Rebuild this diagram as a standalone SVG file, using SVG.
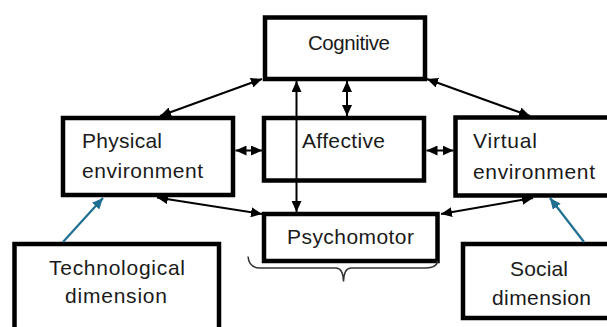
<svg xmlns="http://www.w3.org/2000/svg" width="607" height="327" viewBox="0 0 607 327">
<style>
.box{fill:#fff;stroke:#000;stroke-width:4.5}
.lbl{font-family:"Liberation Sans",Arial,sans-serif;font-size:21px;fill:#1a1a1a}
.c{stroke:#000;stroke-width:2;fill:none}
.b{stroke:#1f6f92;stroke-width:2.2;fill:none}
</style>
<defs>
<marker id="ah" markerUnits="userSpaceOnUse" markerWidth="12" markerHeight="10" refX="11" refY="5" orient="auto-start-reverse">
<path d="M0,0 L11,5 L0,10 Z" fill="#000"/>
</marker>
<marker id="bh" markerUnits="userSpaceOnUse" markerWidth="12" markerHeight="10" refX="11" refY="5" orient="auto">
<path d="M0,0 L11,5 L0,10 Z" fill="#1f6f92"/>
</marker>
</defs>
<rect width="607" height="327" fill="#fff"/>
<g id="cognitive">
<rect class="box" x="265" y="17.5" width="160" height="61.5"/>
<text class="lbl" x="308" y="49.5" style="font-size:20.5px" textLength="82">Cognitive</text>
</g>
<g id="physical">
<rect class="box" x="63" y="118" width="170" height="77"/>
<text class="lbl" x="82" y="148" textLength="80">Physical</text>
<text class="lbl" x="82" y="178" textLength="121">environment</text>
</g>
<g id="affective">
<rect class="box" x="264" y="118" width="160" height="62.5"/>
<text class="lbl" x="302" y="148" textLength="83">Affective</text>
</g>
<g id="virtual">
<rect class="box" x="455.5" y="117.5" width="160" height="78"/>
<text class="lbl" x="473" y="148" textLength="64">Virtual</text>
<text class="lbl" x="473" y="179" textLength="122">environment</text>
</g>
<g id="psychomotor">
<rect class="box" x="264" y="214" width="173.5" height="47"/>
<text class="lbl" x="287" y="244" textLength="127">Psychomotor</text>
</g>
<g id="technological">
<rect class="box" x="14.5" y="244" width="204.5" height="100"/>
<text class="lbl" x="49" y="275" textLength="136">Technological</text>
<text class="lbl" x="65" y="303" textLength="102">dimension</text>
</g>
<g id="social">
<rect class="box" x="463" y="244" width="160" height="74"/>
<text class="lbl" x="510" y="276" textLength="58">Social</text>
<text class="lbl" x="492" y="305" textLength="99">dimension</text>
</g>
<g id="brace">
<path d="M248,256.5 Q249,268 260,268 L336,268 Q343,268 343.5,281.5 Q344,268 351,268 L426,268 Q436,268 438,261" fill="none" stroke="#333" stroke-width="1.5"/>
</g>
<g id="connectors">
<line class="c" x1="160" y1="116" x2="262" y2="79" marker-start="url(#ah)" marker-end="url(#ah)"/>
<line class="c" x1="427" y1="79" x2="530" y2="116" marker-start="url(#ah)" marker-end="url(#ah)"/>
<line class="c" x1="347" y1="81" x2="347" y2="116" marker-start="url(#ah)" marker-end="url(#ah)"/>
<line class="c" x1="296.5" y1="81" x2="296.5" y2="212" marker-start="url(#ah)" marker-end="url(#ah)"/>
<line class="c" x1="235.5" y1="150.5" x2="262" y2="150.5" marker-start="url(#ah)" marker-end="url(#ah)"/>
<line class="c" x1="426.5" y1="150.5" x2="453.5" y2="150.5" marker-start="url(#ah)" marker-end="url(#ah)"/>
<line class="c" x1="157" y1="197.5" x2="262" y2="214" marker-start="url(#ah)" marker-end="url(#ah)"/>
<line class="c" x1="441" y1="214" x2="533" y2="198" marker-start="url(#ah)" marker-end="url(#ah)"/>
<line class="b" x1="63" y1="242" x2="103" y2="198" marker-end="url(#bh)"/>
<line class="b" x1="584" y1="242" x2="550" y2="198" marker-end="url(#bh)"/>
</g>
</svg>
